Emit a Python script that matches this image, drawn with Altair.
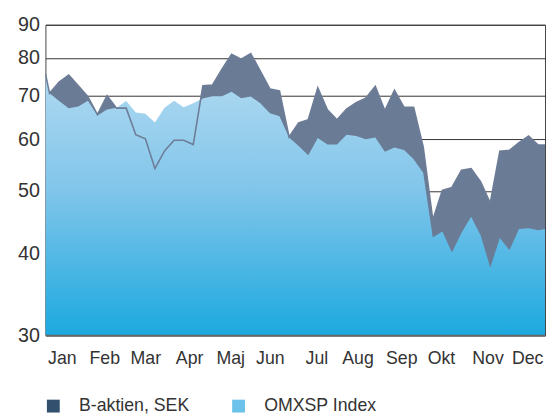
import altair as alt
import pandas as pd

# day of year of each weekly observation
days = [0, 3, 10, 17, 24, 31, 38, 45, 52, 59, 66, 73, 80, 87, 94, 101, 108, 115,
        122, 129, 136, 143, 150, 157, 164, 171, 178, 185, 192, 199, 206, 213, 220,
        227, 234, 241, 248, 255, 262, 269, 276, 283, 290, 297, 304, 311, 318, 325,
        332, 339, 346, 353, 360, 365]

b_aktien = [75.7, 70.6, 73.5, 75.3, 72.5, 69.8, 65.5, 70.0, 67.0, 67.0, 61.0, 60.1,
            54.1, 57.6, 59.8, 59.8, 58.9, 72.5, 72.7, 76.9, 81.1, 79.7, 81.3, 76.4,
            71.7, 71.2, 60.5, 63.6, 64.3, 72.0, 66.6, 64.3, 66.8, 68.3, 69.4, 72.4,
            66.4, 71.4, 67.2, 67.2, 58.4, 45.1, 50.1, 50.6, 53.8, 54.1, 51.6, 47.9,
            57.5, 57.7, 59.3, 60.7, 58.8, 58.8]

omxsp = [75.6, 70.6, 68.7, 67.0, 67.4, 68.8, 65.3, 66.7, 67.1, 68.7, 66.0, 65.7,
         63.7, 67.1, 68.8, 67.2, 68.2, 69.3, 69.9, 69.9, 71.0, 69.4, 69.8, 68.2,
         65.8, 65.1, 60.4, 58.6, 56.7, 60.3, 58.9, 58.9, 61.0, 60.7, 60.0, 60.4,
         57.4, 58.3, 57.8, 55.9, 53.3, 42.4, 43.3, 40.2, 43.1, 45.6, 42.7, 38.1,
         42.3, 40.5, 43.7, 43.8, 43.5, 43.7]

months = ["Jan", "Feb", "Mar", "Apr", "Maj", "Jun", "Jul", "Aug", "Sep", "Okt", "Nov", "Dec"]
month_label_days = [12, 43, 73, 105, 135, 164, 198, 228, 260, 289, 323, 352]
y_ticks = [30, 40, 50, 60, 70, 80, 90]
series_names = ["B-aktien, SEK", "OMXSP Index"]

df_b = pd.DataFrame({"day": days, "value": b_aktien})
df_o = pd.DataFrame({"day": days, "value": omxsp})
df_leg = pd.DataFrame({"series": series_names})

month_arr = "[" + ",".join("'%s'" % m for m in months) + "]"

x_enc = alt.X(
    "day:Q",
    scale=alt.Scale(domain=[0, 365], nice=False, zero=False),
    axis=alt.Axis(
        values=month_label_days,
        labelExpr=month_arr + "[floor(datum.value / 30.42)]",
        ticks=False, grid=False, title=None,
        domainColor="#666666", domainWidth=2,
        labelFontSize=18, labelPadding=15, labelColor="#333333",
        labelOverlap=False, labelBound=False,
        zindex=1,
    ),
)
y_enc = alt.Y(
    "value:Q",
    scale=alt.Scale(type="log", domain=[30, 90], nice=False),
    axis=alt.Axis(
        values=y_ticks, grid=True, gridColor="#333333", gridWidth=1,
        ticks=False, domain=False, title=None,
        labelFontSize=20, labelPadding=6, labelColor="#333333",
        format="d",
    ),
)

dark_area = alt.Chart(df_b).mark_area(color="#6a7b96", clip=True).encode(
    x=x_enc, y=y_enc, y2=alt.datum(30)
)

grad = alt.Gradient(
    gradient="linear",
    stops=[
        alt.GradientStop(color="#afd9f0", offset=0),
        alt.GradientStop(color="#80c5ea", offset=0.45),
        alt.GradientStop(color="#1ca9df", offset=1),
    ],
    x1=0, x2=0, y1=0, y2=1,
)
light_area = alt.Chart(df_o).mark_area(fill=grad, clip=True).encode(
    x=x_enc, y=y_enc, y2=alt.datum(30)
)

dark_line = alt.Chart(df_b).mark_line(color="#6e7d97", strokeWidth=1.6, clip=True).encode(
    x=x_enc, y=y_enc
)

legend_layer = alt.Chart(df_leg).mark_square(opacity=0).encode(
    color=alt.Color(
        "series:N",
        scale=alt.Scale(domain=series_names, range=["#33506f", "#6cc2ea"]),
        legend=alt.Legend(
            orient="none", legendX=-1, legendY=378, direction="horizontal",
            title=None, symbolType="square", symbolSize=170, symbolOpacity=1,
            symbolStrokeWidth=0, labelFontSize=18, labelOffset=17,
            columnPadding=40, labelColor="#333333",
        ),
    )
)

chart = alt.layer(dark_area, light_area, dark_line, legend_layer).properties(
    width=507, height=315,
    autosize="none",
    padding={"left": 38, "top": 14, "right": 1, "bottom": 77},
).configure(font="Liberation Sans").configure_view(stroke="#444444", strokeWidth=1)

chart.save("out.html", embed_options={"renderer": "svg", "actions": False})
